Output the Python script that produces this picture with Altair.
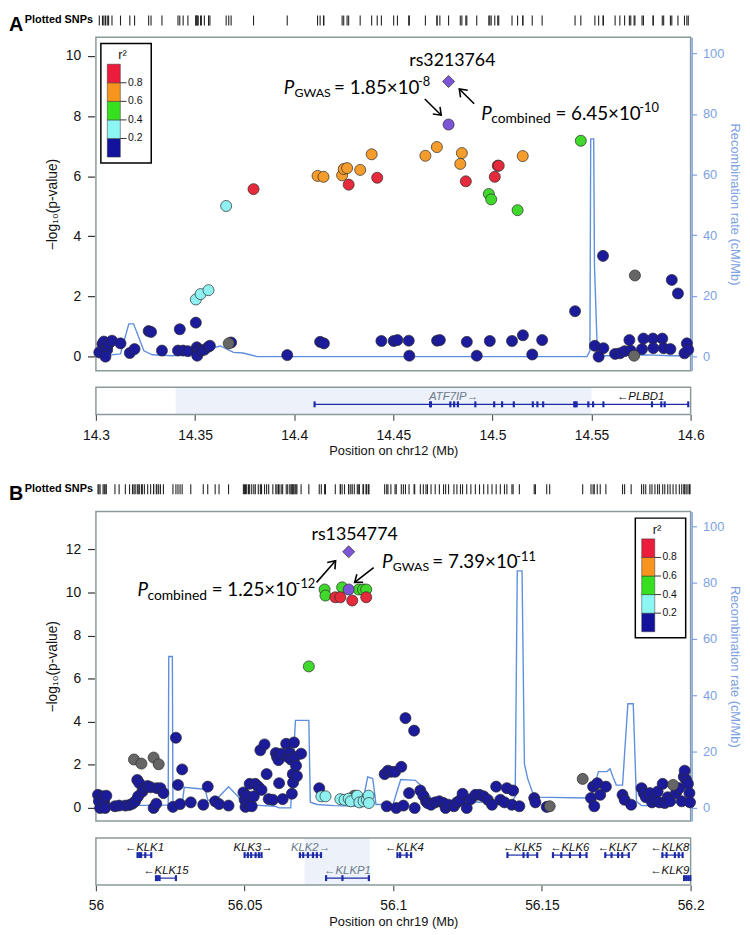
import math
import altair as alt
import pandas as pd

# ---------------------------------------------------------------- styling
W = 602
FONT = "Liberation Sans"
NARROW = "Liberation Sans Narrow, Liberation Sans, Arial"
ANN_FONT = "Lato"
FRAME = "#8a9a9a"
REC_COL = "#5f8fdc"
AX_BLUE = "#7da2e2"
GENE_BLUE = "#1c2aa8"
PURPLE = "#7b55d6"

LD_KEYS = ["blue", "cyan", "green", "orange", "red", "gray", "index"]
LD_COLORS = ["#1b1b9c", "#8ef0f0", "#40d82c", "#f59d2c", "#e52a3b", "#666666", PURPLE]

# legend (r^2 bins)
LEG_LO = [0.0, 0.2, 0.4, 0.6, 0.8]
LEG_HI = [0.2, 0.4, 0.6, 0.8, 1.0]
LEG_COLORS = ["#12129c", "#8cf6f3", "#36e01e", "#f7941d", "#ec1c3c"]
LEG_TICKS = [0.2, 0.4, 0.6, 0.8]
LEG_LABELS = ["0.2", "0.4", "0.6", "0.8"]

# ---------------------------------------------------------------- panel A data (chr12)
A_XDOM = [14.3, 14.6]
A_XTICKS = [14.3, 14.35, 14.4, 14.45, 14.5, 14.55, 14.6]
A_YTICKS = [0, 2, 4, 6, 8, 10]

A_BLUE_POS = [14.3017, 14.3033, 14.3040, 14.3057, 14.3064, 14.3048, 14.3081, 14.3124, 14.3171, 14.3195,
              14.3266, 14.3278, 14.3333, 14.3423, 14.3414, 14.3440, 14.3464, 14.3504, 14.3509, 14.3516,
              14.3511, 14.3532, 14.3547, 14.3568, 14.3575, 14.3682, 14.3965, 14.4131, 14.4150, 14.4440,
              14.4502, 14.4521, 14.4578, 14.4581, 14.4721, 14.4735, 14.4871, 14.4921, 14.4987, 14.5099,
              14.5154, 14.5201, 14.5251, 14.5417, 14.5517, 14.5536, 14.5560, 14.5558, 14.5619, 14.5643,
              14.5667, 14.5698, 14.5691, 14.5755, 14.5762, 14.5810, 14.5812, 14.5857, 14.5864, 14.5898,
              14.5905, 14.5936, 14.5969, 14.5981, 14.5988]
A_BLUE_VAL = [0.14, 0.42, 0.50, 0.23, 0.42, 0.00, 0.53, 0.44, 0.12, 0.25,
              0.85, 0.82, 0.20, 0.91, 0.20, 0.20, 0.18, 1.13, 0.31, 0.22,
              0.03, 0.20, 0.23, 0.33, 0.36, 0.47, 0.05, 0.49, 0.44, 0.52,
              0.52, 0.55, 0.53, 0.03, 0.53, 0.55, 0.49, 0.03, 0.52, 0.52,
              0.71, 0.07, 0.55, 1.51, 0.36, 0.00, 0.28, 3.35, 0.09, 0.11,
              0.18, 0.20, 0.55, 0.25, 0.60, 0.60, 0.28, 0.60, 0.28, 0.25,
              2.55, 2.10, 0.11, 0.44, 0.23]
A_GRAY_POS = [14.3670, 14.5715, 14.5719]
A_GRAY_VAL = [0.44, 0.03, 2.70]
A_CYAN_POS = [14.3504, 14.3528, 14.3568, 14.3657]
A_CYAN_VAL = [1.90, 2.08, 2.21, 5.01]
A_GREEN_POS = [14.4982, 14.4994, 14.5127, 14.5446]
A_GREEN_VAL = [5.41, 5.23, 4.87, 7.18]
A_ORANGE_POS = [14.4118, 14.4148, 14.4242, 14.4250, 14.4267, 14.4333, 14.4391, 14.4662, 14.4720,
                14.4846, 14.4838, 14.5153]
A_ORANGE_VAL = [6.01, 5.98, 6.03, 6.24, 6.27, 6.21, 6.73, 6.68, 6.97, 6.77, 6.41, 6.67]
A_RED_POS = [14.3795, 14.4275, 14.4419, 14.4866, 14.5027, 14.5032, 14.5012]
A_RED_VAL = [5.57, 5.72, 5.95, 5.83, 6.35, 6.35, 5.98]
A_INDEX_POS = [14.4779]
A_INDEX_GWAS = [7.72]
A_INDEX_COMB = [9.15]

A_REC_POS = [14.300, 14.3064, 14.3124, 14.3166, 14.3190, 14.3242, 14.3285, 14.3385, 14.3480, 14.3551,
             14.3628, 14.3694, 14.3742, 14.3813, 14.5477, 14.5492, 14.5496, 14.5511, 14.5515, 14.5530,
             14.5600, 14.5720, 14.5820, 14.5900, 14.6000]
A_REC_RATE = [0.3, 0.5, 0.9, 10.8, 10.8, 1.9, 0.6, 0.3, 0.9, 2.2,
              3.5, 1.4, 1.2, 0.0, 0.0, 1.9, 71.8, 71.8, 30.0, 0.3,
              0.3, 0.6, 0.5, 0.3, 0.3]

A_GENE_NAME = ["ATF7IP", "PLBD1"]
A_GENE_START = [14.4103, 14.5508]
A_GENE_END = [14.5505, 14.5988]
A_GENE_STRAND = ["+", "-"]
A_GENE_ROW = [0, 0]
A_GENE_GRAY = [True, False]
A_EXONS = [14.4103, 14.4686, 14.4690, 14.4788, 14.4807, 14.4826, 14.4914, 14.5009, 14.5049, 14.5108,
           14.5204, 14.5227, 14.5256, 14.5413, 14.5418, 14.5425, 14.5484,
           14.5508, 14.5560, 14.5805, 14.5852, 14.5869, 14.5988]
A_EXON_ROW = [0] * 23
A_SHADE = [14.3402, 14.5500]

A_SNP_NAME = "rs3213764"
A_SNP_AT = [14.4798, 9.84]
A_GWAS_AT = [14.3947, 8.92]
A_GWAS_TXT = ["P", "GWAS", "= 1.85×10", "-8"]
A_COMB_AT = [14.4944, 8.07]
A_COMB_TXT = ["P", "combined", "= 6.45×10", "-10"]
A_ARROWS = [[14.4659, 8.57, 14.4742, 8.03], [14.4908, 8.41, 14.4833, 8.90]]

# ---------------------------------------------------------------- panel B data (chr19)
B_XDOM = [56.0, 56.2]
B_XTICKS = [56.0, 56.05, 56.1, 56.15, 56.2]
B_YTICKS = [0, 2, 4, 6, 8, 10, 12]

B_BLUE_POS = [56.0007, 56.0010, 56.0014, 56.0024, 56.0028, 56.0031, 56.0035, 56.0064, 56.0078, 56.0099,
              56.0113, 56.0123, 56.0132, 56.0139, 56.0146, 56.0142, 56.0156, 56.0163, 56.0174, 56.0184,
              56.0194, 56.0203, 56.0205, 56.0217, 56.0227, 56.0259, 56.0269, 56.0276, 56.0283, 56.0290,
              56.0319, 56.0361, 56.0376, 56.0401, 56.0414, 56.0446, 56.0496, 56.0500, 56.0503, 56.0507,
              56.0513, 56.0517, 56.0524, 56.0531, 56.0536, 56.0546, 56.0553, 56.0557, 56.0567, 56.0574,
              56.0581, 56.0595, 56.0605, 56.0609, 56.0614, 56.0616, 56.0623, 56.0628, 56.0640, 56.0645,
              56.0652, 56.0656, 56.0659, 56.0662, 56.0663, 56.0666, 56.0670, 56.0673, 56.0676, 56.0690,
              56.0751, 56.0971, 56.0982, 56.0992, 56.1006, 56.1027, 56.0978, 56.1010, 56.1034, 56.1053,
              56.1041, 56.1070, 56.1072, 56.1091, 56.1101, 56.1110, 56.1115, 56.1127, 56.1141, 56.1155,
              56.1169, 56.1176, 56.1186, 56.1204, 56.1214, 56.1226, 56.1233, 56.1247, 56.1261, 56.1276,
              56.1290, 56.1304, 56.1318, 56.1332, 56.1346, 56.1360, 56.1374, 56.1382, 56.1399, 56.1403,
              56.1424, 56.1474, 56.1478, 56.1516, 56.1665, 56.1672, 56.1676, 56.1686, 56.1696, 56.1715,
              56.1771, 56.1778, 56.1800, 56.1835, 56.1842, 56.1849, 56.1863, 56.1870, 56.1880, 56.1889,
              56.1895, 56.1906, 56.1913, 56.1923, 56.1931, 56.1951, 56.1962, 56.1970, 56.1977, 56.1980,
              56.1985, 56.1991, 56.1996, 56.1998]
B_BLUE_VAL = [0.61, 0.31, 0.00, 0.54, 0.26, 0.00, 0.57, 0.08, 0.11, 0.11,
              0.14, 0.20, 0.31, 1.30, 1.15, 0.54, 0.76, 0.92, 1.02, 0.96,
              0.00, 0.20, 0.92, 0.92, 0.69, 0.05, 3.26, 1.07, 0.18, 1.79,
              0.26, 0.15, 0.99, 0.31, 0.18, 0.11, 0.72, 0.38, 0.05, 0.57,
              0.20, 1.12, 0.08, 0.54, 1.12, 0.99, 2.68, 0.84, 2.95, 1.57,
              0.41, 0.38, 2.55, 2.37, 2.22, 1.15, 2.52, 0.41, 2.98, 2.37,
              2.55, 2.25, 0.66, 1.57, 1.18, 3.04, 2.37, 1.96, 1.48, 2.52,
              0.92, 1.57, 1.73, 1.68, 1.68, 1.91, 0.08, 0.00, 0.11, 0.69,
              4.17, 3.59, 0.00, 0.81, 0.57, 0.31, 0.23, 0.15, 0.26, 0.31,
              0.23, 0.00, 0.15, 0.08, 0.26, 0.38, 0.66, 0.00, 0.41, 0.61,
              0.61, 0.54, 0.38, 0.15, 0.99, 0.38, 0.26, 0.92, 0.15, 0.81,
              0.08, 0.46, 0.26, 0.05, 0.46, 0.99, 0.08, 1.15, 0.61, 0.99,
              0.61, 0.38, 0.15, 0.92, 0.69, 0.50, 0.69, 0.26, 0.38, 0.76,
              0.26, 1.12, 0.23, 0.50, 0.31, 0.69, 0.92, 0.31, 1.45, 1.73,
              1.30, 1.12, 0.69, 0.26]
B_GRAY_POS = [56.0128, 56.0153, 56.0194, 56.0211, 56.0869, 56.1526, 56.1637, 56.1941]
B_GRAY_VAL = [2.25, 2.06, 2.34, 2.03, 0.57, 0.08, 1.35, 1.07]
B_CYAN_POS = [56.0758, 56.0772, 56.0822, 56.0836, 56.0850, 56.0857, 56.0879, 56.0886, 56.0900, 56.0911,
              56.0917, 56.0918]
B_CYAN_VAL = [0.54, 0.54, 0.41, 0.38, 0.43, 0.31, 0.57, 0.26, 0.31, 0.38, 0.57, 0.23]
B_GREEN_POS = [56.0716, 56.0769, 56.0772, 56.0828, 56.0884, 56.0898, 56.0909]
B_GREEN_VAL = [6.57, 10.14, 9.86, 10.24, 10.14, 10.14, 10.14]
B_ORANGE_POS = []
B_ORANGE_VAL = []
B_RED_POS = [56.0805, 56.0822, 56.0862, 56.0909]
B_RED_VAL = [9.78, 9.78, 9.63, 9.78]
B_INDEX_POS = [56.0850]
B_INDEX_GWAS = [10.14]
B_INDEX_COMB = [11.89]

B_REC_POS = [56.0000, 56.0149, 56.0234, 56.0243, 56.0245, 56.0257, 56.0259, 56.0290, 56.0297, 56.0340,
             56.0368, 56.0376, 56.0404, 56.0446, 56.0478, 56.0496, 56.0602, 56.0616, 56.0655, 56.0671,
             56.0673, 56.0716, 56.0721, 56.0744, 56.0801, 56.0886, 56.0903, 56.0914, 56.0931, 56.0942,
             56.0999, 56.1025, 56.1074, 56.1098, 56.1127, 56.1148, 56.1197, 56.1226, 56.1254, 56.1290,
             56.1339, 56.1396, 56.1410, 56.1417, 56.1433, 56.1441, 56.1452, 56.1474, 56.1651, 56.1662,
             56.1690, 56.1719, 56.1729, 56.1739, 56.1750, 56.1771, 56.1789, 56.1807, 56.1818, 56.1835,
             56.1934, 56.1955, 56.1970, 56.2000]
B_REC_RATE = [1.2, 0.9, 1.0, 1.0, 53.8, 53.8, 1.2, 1.2, 7.3, 6.9,
              6.6, 2.7, 2.9, 7.5, 4.0, 1.2, 0.6, 0.0, 0.0, 31.1,
              31.1, 31.1, 2.0, 1.2, 0.8, 0.6, 5.2, 11.0, 10.4, 1.2,
              1.2, 10.1, 9.8, 7.5, 3.5, 1.7, 1.4, 1.2, 2.3, 2.0,
              2.3, 2.0, 4.0, 84.2, 84.2, 15.6, 10.4, 3.8, 3.5, 2.9,
              12.9, 12.9, 13.9, 11.0, 8.1, 8.1, 37.0, 37.0, 2.3, 0.8,
              0.8, 2.3, 1.2, 0.6]

B_GENE_NAME = ["KLK1", "KLK15", "KLK3", "KLK2", "KLKP1", "KLK4", "KLK5", "KLK6", "KLK7", "KLK8", "KLK9"]
B_GENE_START = [56.0140, 56.0202, 56.0500, 56.0686, 56.0774, 56.1014, 56.1384, 56.1537, 56.1713, 56.1905, 56.1978]
B_GENE_END = [56.0186, 56.0269, 56.0557, 56.0757, 56.0918, 56.1060, 56.1484, 56.1650, 56.1792, 56.1973, 56.1999]
B_GENE_STRAND = ["-", "-", "+", "+", "-", "-", "-", "-", "-", "-", "-"]
B_GENE_ROW = [0, 1, 0, 0, 1, 0, 0, 0, 0, 0, 1]
B_GENE_GRAY = [False, False, False, True, True, False, False, False, False, False, False]
B_EXONS = [56.0140, 56.0146, 56.0152, 56.0166, 56.0186,
           56.0202, 56.0208, 56.0214, 56.0269,
           56.0500, 56.0511, 56.0522, 56.0537, 56.0548, 56.0557,
           56.0686, 56.0697, 56.0713, 56.0730, 56.0743, 56.0757,
           56.0774, 56.0829, 56.0918,
           56.1014, 56.1023, 56.1045, 56.1060,
           56.1384, 56.1438, 56.1452, 56.1484,
           56.1537, 56.1565, 56.1594, 56.1628, 56.1650,
           56.1713, 56.1734, 56.1756, 56.1770, 56.1792,
           56.1905, 56.1919, 56.1947, 56.1960, 56.1973,
           56.1978, 56.1985, 56.1992, 56.1999]
B_EXON_ROW = [0] * 5 + [1] * 4 + [0] * 6 + [0] * 6 + [1] * 3 + [0] * 4 + [0] * 4 + [0] * 5 + [0] * 5 + [0] * 5 + [1] * 4
B_SHADE = [56.0702, 56.0921]

B_SNP_NAME = "rs1354774"
B_SNP_AT = [56.0870, 12.69]
B_GWAS_AT = [56.0962, 11.39]
B_GWAS_TXT = ["P", "GWAS", "= 7.39×10", "-11"]
B_COMB_AT = [56.0140, 10.11]
B_COMB_TXT = ["P", "combined", "= 1.25×10", "-12"]
B_ARROWS = [[56.0742, 10.47, 56.0806, 11.47], [56.0934, 11.16, 56.0870, 10.47]]

# ---------------------------------------------------------------- layout (pixels)
H_SNP_A, H_MAIN_A, H_GENE_A = 21.5, 337.5, 43.7
H_SNP_B, H_MAIN_B, H_GENE_B = 97.6, 313.4, 64.0
A_YDOM, A_RDOM = [-0.47, 10.62], [-4.66, 105.3]
B_YDOM, B_RDOM = [-0.61, 13.76], [-4.7, 105.3]


def xscale(xdom):
    return alt.Scale(domain=xdom, nice=False, zero=False)


def points_frame(groups):
    rows = []
    for key, pos, val in groups:
        for p, v in zip(pos, val):
            rows.append({"pos": p, "logp": v, "ld": key})
    return pd.DataFrame(rows)


def legend_layers(x0, y0):
    bins = pd.DataFrame({"lo": LEG_LO, "hi": LEG_HI, "c": LEG_COLORS})
    labs = pd.DataFrame({"v": LEG_TICKS, "lab": LEG_LABELS})
    one = pd.DataFrame({"t": ["r²"]})
    ys = alt.Scale(domain=[0, 1], range=[y0 + 115, y0 + 21], nice=False, zero=False)
    box = alt.Chart(one).mark_rect(fill="white", stroke="black", strokeWidth=1.5).encode(
        x=alt.value(x0), x2=alt.value(x0 + 51), y=alt.value(y0), y2=alt.value(y0 + 121))
    bars = alt.Chart(bins).mark_rect(stroke="#333333", strokeWidth=0.5).encode(
        x=alt.value(x0 + 6.5), x2=alt.value(x0 + 19.7),
        y=alt.Y("lo:Q", scale=ys, axis=None), y2="hi:Q",
        fill=alt.Fill("c:N", scale=None))
    ticks = alt.Chart(labs).mark_rule(color="#333333", strokeWidth=1).encode(
        x=alt.value(x0 + 19.7), x2=alt.value(x0 + 26),
        y=alt.Y("v:Q", scale=ys, axis=None))
    texts = alt.Chart(labs).mark_text(align="left", baseline="middle", font=FONT, fontSize=10.5,
                                      color="#111111").encode(
        x=alt.value(x0 + 27.5), y=alt.Y("v:Q", scale=ys, axis=None), text="lab:N")
    title = alt.Chart(one).mark_text(align="center", baseline="middle", font=FONT, fontSize=13,
                                     color="#111111").encode(
        x=alt.value(x0 + 22), y=alt.value(y0 + 12), text="t:N")
    return [box, bars, ticks, texts, title]


def text_pieces(anchor, pieces, offsets, xs, ydom):
    out = []
    for txt, (dx, dy, size, italic) in zip(pieces, offsets):
        df = pd.DataFrame({"pos": [anchor[0]], "val": [anchor[1]], "t": [txt]})
        out.append(alt.Chart(df).mark_text(
            align="left", baseline="middle", dx=dx, dy=dy, fontSize=size, font=ANN_FONT,
            fontStyle="italic" if italic else "normal", color="black").encode(
            x=alt.X("pos:Q", scale=xs, axis=None),
            y=alt.Y("val:Q", scale=alt.Scale(domain=ydom, nice=False, zero=False), axis=None),
            text="t:N"))
    return out


def arrow_layers(arr, xs, xdom, ydom, height):
    x1, y1, x2, y2 = arr
    pxx = W / (xdom[1] - xdom[0])
    pxy = height / (ydom[1] - ydom[0])
    ddx = (x2 - x1) * pxx
    ddy = -(y2 - y1) * pxy
    ang = math.degrees(math.atan2(ddx, -ddy)) % 360
    df = pd.DataFrame({"x1": [x1], "y1": [y1], "x2": [x2], "y2": [y2]})
    ysc = alt.Scale(domain=ydom, nice=False, zero=False)
    shaft = alt.Chart(df).mark_rule(color="black", strokeWidth=1.6).encode(
        x=alt.X("x1:Q", scale=xs, axis=None), x2="x2:Q",
        y=alt.Y("y1:Q", scale=ysc, axis=None), y2="y2:Q")
    head = alt.Chart(df).mark_point(shape="M-0.75,1L0,0L0.75,1", filled=False, size=190,
                                    stroke="black", strokeWidth=1.6, opacity=1, angle=ang).encode(
        x=alt.X("x2:Q", scale=xs, axis=None), y=alt.Y("y2:Q", scale=ysc, axis=None))
    return [shaft, head]


GWAS_OFFS = [(0, 0, 19, True), (11, 5, 12.5, False), (51, 0, 19, False), (136, -6, 13, False)]
COMB_OFFS = [(0, 0, 19, True), (10, 5.5, 14, False), (75, 0, 19, False), (160, -6, 13, False)]


def main_panel(groups, idx_pos, idx_gwas, idx_comb, rec_pos, rec_rate, xdom, ydom, rdom, yticks,
               height, leg_xy, snp_name, snp_at, gwas_at, gwas_txt, comb_at, comb_txt, arrows):
    xs = xscale(xdom)
    X = alt.X("pos:Q", scale=xs, axis=None)
    groups = groups + [("index", idx_pos, idx_gwas)]
    df = points_frame(groups)
    rec_df = pd.DataFrame({"pos": rec_pos, "rate": rec_rate})
    rec = alt.Chart(rec_df).mark_line(color=REC_COL, strokeWidth=1.4).encode(
        x=X,
        y=alt.Y("rate:Q", scale=alt.Scale(domain=rdom, nice=False, zero=False),
                axis=alt.Axis(orient="right", values=[0, 20, 40, 60, 80, 100],
                              title="Recombination rate (cM/Mb)", grid=False,
                              domain=True, domainColor=AX_BLUE, domainWidth=1.5, offset=1,
                              tickColor=AX_BLUE, tickSize=5, tickWidth=1.2,
                              labelColor=AX_BLUE, labelFont=FONT, labelFontSize=13, labelPadding=6,
                              titleColor=AX_BLUE, titleFont=NARROW, titleFontSize=13,
                              titleFontWeight="normal", titlePadding=4)))
    pts = alt.Chart(df).mark_circle(size=125, stroke="#2a2a2a", strokeWidth=0.7, opacity=1).encode(
        x=X,
        y=alt.Y("logp:Q", scale=alt.Scale(domain=ydom, nice=False, zero=False),
                axis=alt.Axis(orient="left", values=yticks, title="−log₁₀(p-value)", grid=False,
                              domain=False, offset=1.5, tickColor="#333333", tickSize=7, tickWidth=1.2,
                              labelFont=FONT, labelFontSize=14, labelColor="#111111", labelPadding=7,
                              titleFont=NARROW, titleFontSize=14, titleFontWeight="normal",
                              titleColor="#111111", titlePadding=6)),
        fill=alt.Fill("ld:N", scale=alt.Scale(domain=LD_KEYS, range=LD_COLORS), legend=None))
    idx_df = pd.DataFrame({"pos": idx_pos, "logp": idx_comb})
    idx = alt.Chart(idx_df).mark_point(shape="diamond", filled=True, size=150, fill=PURPLE,
                                       stroke="#2a2a2a", strokeWidth=0.7, opacity=1).encode(
        x=X, y=alt.Y("logp:Q", scale=alt.Scale(domain=ydom, nice=False, zero=False), axis=None))
    name_df = pd.DataFrame({"pos": [snp_at[0]], "val": [snp_at[1]], "t": [snp_name]})
    name = alt.Chart(name_df).mark_text(align="center", baseline="middle", fontSize=18, font=ANN_FONT,
                                        color="black").encode(
        x=alt.X("pos:Q", scale=xs, axis=None),
        y=alt.Y("val:Q", scale=alt.Scale(domain=ydom, nice=False, zero=False), axis=None), text="t:N")
    layers = [rec, pts, idx, name]
    layers += text_pieces(gwas_at, gwas_txt, GWAS_OFFS, xs, ydom)
    layers += text_pieces(comb_at, comb_txt, COMB_OFFS, xs, ydom)
    for a in arrows:
        layers += arrow_layers(a, xs, xdom, ydom, height)
    layers += legend_layers(*leg_xy)
    return alt.layer(*layers).resolve_scale(y="independent").properties(width=W, height=height)


def gene_panel(names, starts, ends, strands, rows, grays, exons, exon_rows, shade, xdom, xticks,
               title, height, box_top):
    xs = xscale(xdom)
    ax = alt.Axis(values=xticks, format="~g", title=title, grid=False, domain=False,
                  tickColor="#555555", tickSize=6, tickWidth=1.2, labelFont=FONT, labelFontSize=14,
                  labelColor="#111111", labelPadding=8, labelFlush=False, labelOverlap=False,
                  titleFont=FONT, titleFontSize=13, titleFontWeight="normal", titleColor="#111111",
                  titlePadding=3)
    ys = alt.Scale(domain=[0, 1], range=[box_top + 17.2, box_top + 40.5], nice=False, zero=False)
    span = xdom[1] - xdom[0]
    lab_x, lab_t, lab_c = [], [], []
    for n, s, e, st, g in zip(names, starts, ends, strands, grays):
        c = (s + e) / 2
        c = min(c, xdom[1] - span * 0.035)
        lab_x.append(c)
        lab_t.append(n + "→" if st == "+" else "←" + n)
        lab_c.append("#6b7a8a" if g else "#111111")
    gdf = pd.DataFrame({"start": starts, "end": ends, "row": rows, "lx": lab_x, "lab": lab_t, "col": lab_c})
    edf = pd.DataFrame({"pos": exons, "row": exon_rows})
    sdf = pd.DataFrame({"s": [shade[0]], "e": [shade[1]]})
    one = pd.DataFrame({"k": [0]})
    sh = alt.Chart(sdf).mark_rect(fill="#edf1fa").encode(
        x=alt.X("s:Q", scale=xs, axis=ax), x2="e:Q", y=alt.value(box_top), y2=alt.value(height))
    box = alt.Chart(one).mark_rect(fill="transparent", stroke=FRAME, strokeWidth=1.5).encode(
        x=alt.value(0), x2=alt.value(W), y=alt.value(box_top), y2=alt.value(height))
    lines = alt.Chart(gdf).mark_rule(color=GENE_BLUE, strokeWidth=1.2).encode(
        x=alt.X("start:Q", scale=xs, axis=ax), x2="end:Q", y=alt.Y("row:Q", scale=ys, axis=None))
    ex = alt.Chart(edf).mark_tick(orient="vertical", color=GENE_BLUE, size=6, thickness=2.2, opacity=1).encode(
        x=alt.X("pos:Q", scale=xs, axis=ax), y=alt.Y("row:Q", scale=ys, axis=None))
    labels = alt.Chart(gdf).mark_text(font=FONT, fontSize=11.5, fontStyle="italic", baseline="middle",
                                      align="center", dy=-7.5).encode(
        x=alt.X("lx:Q", scale=xs, axis=ax), y=alt.Y("row:Q", scale=ys, axis=None), text="lab:N",
        color=alt.Color("col:N", scale=None))
    return alt.layer(sh, box, lines, ex, labels).properties(
        width=W, height=height, view=alt.ViewBackground(stroke="transparent"))


def snp_strip(positions, xdom, height, top, letter):
    xs = xscale(xdom)
    ticks = alt.Chart(pd.DataFrame({"pos": positions})).mark_rule(color="#222222", strokeWidth=1.1).encode(
        x=alt.X("pos:Q", scale=xs, axis=None), y=alt.value(top), y2=alt.value(top + 10))
    let = alt.Chart(pd.DataFrame({"t": [letter]})).mark_text(
        align="left", baseline="alphabetic", font=FONT, fontSize=20, fontWeight="bold", color="black").encode(
        x=alt.value(-88), y=alt.value(top + 15.5), text="t:N")
    lab = alt.Chart(pd.DataFrame({"t": ["Plotted SNPs"]})).mark_text(
        align="left", baseline="middle", font=FONT, fontSize=11, fontWeight="bold", color="black").encode(
        x=alt.value(-72), y=alt.value(top + 5), text="t:N")
    return alt.layer(ticks, let, lab).properties(
        width=W, height=height, view=alt.ViewBackground(stroke="transparent"))


A_GROUPS = [("blue", A_BLUE_POS, A_BLUE_VAL), ("gray", A_GRAY_POS, A_GRAY_VAL),
            ("cyan", A_CYAN_POS, A_CYAN_VAL), ("green", A_GREEN_POS, A_GREEN_VAL),
            ("orange", A_ORANGE_POS, A_ORANGE_VAL), ("red", A_RED_POS, A_RED_VAL)]
B_GROUPS = [("blue", B_BLUE_POS, B_BLUE_VAL), ("gray", B_GRAY_POS, B_GRAY_VAL),
            ("cyan", B_CYAN_POS, B_CYAN_VAL), ("green", B_GREEN_POS, B_GREEN_VAL),
            ("orange", B_ORANGE_POS, B_ORANGE_VAL), ("red", B_RED_POS, B_RED_VAL)]

a_all = sorted(sum([g[1] for g in A_GROUPS], []) + A_INDEX_POS)
b_all = sorted(sum([g[1] for g in B_GROUPS], []) + B_INDEX_POS)

snpA = snp_strip(a_all, A_XDOM, H_SNP_A, 0, "A")
mainA = main_panel(A_GROUPS, A_INDEX_POS, A_INDEX_GWAS, A_INDEX_COMB, A_REC_POS, A_REC_RATE,
                   A_XDOM, A_YDOM, A_RDOM, A_YTICKS, H_MAIN_A, (5, 6.2),
                   A_SNP_NAME, A_SNP_AT, A_GWAS_AT, A_GWAS_TXT, A_COMB_AT, A_COMB_TXT, A_ARROWS)
geneA = gene_panel(A_GENE_NAME, A_GENE_START, A_GENE_END, A_GENE_STRAND, A_GENE_ROW, A_GENE_GRAY,
                   A_EXONS, A_EXON_ROW, A_SHADE, A_XDOM, A_XTICKS, "Position on chr12 (Mb)",
                   H_GENE_A, 16.3)
snpB = snp_strip(b_all, B_XDOM, H_SNP_B, 70.5, "B")
mainB = main_panel(B_GROUPS, B_INDEX_POS, B_INDEX_GWAS, B_INDEX_COMB, B_REC_POS, B_REC_RATE,
                   B_XDOM, B_YDOM, B_RDOM, B_YTICKS, H_MAIN_B, (546, 6.7),
                   B_SNP_NAME, B_SNP_AT, B_GWAS_AT, B_GWAS_TXT, B_COMB_AT, B_COMB_TXT, B_ARROWS)
geneB = gene_panel(B_GENE_NAME, B_GENE_START, B_GENE_END, B_GENE_STRAND, B_GENE_ROW, B_GENE_GRAY,
                   B_EXONS, B_EXON_ROW, B_SHADE, B_XDOM, B_XTICKS, "Position on chr19 (Mb)",
                   H_GENE_B, 16.6)

chart = alt.vconcat(snpA, mainA, geneA, snpB, mainB, geneB, spacing=0, bounds="flush").properties(
    padding=0
).configure_view(stroke=FRAME, strokeWidth=1.5)

chart.save("out.html", embed_options={"renderer": "svg", "actions": False})
